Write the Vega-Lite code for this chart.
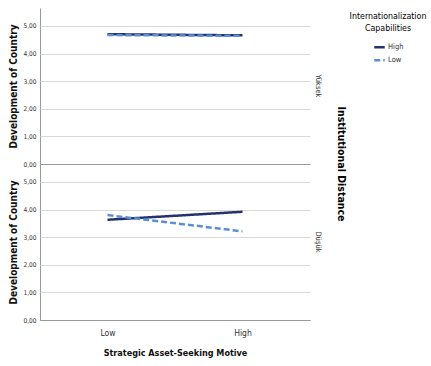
{
  "$schema": "https://vega.github.io/schema/vega-lite/v6.json",
  "padding": {"top": 8, "left": 8, "right": 2, "bottom": 5},
  "background": "white",
  "config": {
    "font": "DejaVu Sans Condensed, Liberation Sans, Arial, sans-serif",
    "view": {"stroke": null},
    "axis": {"labelColor": "#333", "titleColor": "#111"}
  },
  "data": {"values": [
    {"dist": "Yüksek", "motive": "Low", "cap": "High", "dev": 4.70},
    {"dist": "Yüksek", "motive": "High", "cap": "High", "dev": 4.66},
    {"dist": "Yüksek", "motive": "Low", "cap": "Low", "dev": 4.67},
    {"dist": "Yüksek", "motive": "High", "cap": "Low", "dev": 4.64},
    {"dist": "Düşük", "motive": "Low", "cap": "High", "dev": 3.63},
    {"dist": "Düşük", "motive": "High", "cap": "High", "dev": 3.92},
    {"dist": "Düşük", "motive": "Low", "cap": "Low", "dev": 3.80},
    {"dist": "Düşük", "motive": "High", "cap": "Low", "dev": 3.21}
  ]},
  "facet": {
    "row": {
      "field": "dist",
      "type": "nominal",
      "sort": ["Yüksek", "Düşük"],
      "title": "Institutional Distance",
      "header": {
        "labelOrient": "right",
        "labelAngle": 90,
        "labelFontSize": 7.5,
        "labelColor": "#333",
        "labelPadding": 4,
        "titleOrient": "right",
        "titleAngle": 90,
        "titleFontSize": 10.5,
        "titleFontWeight": "bold",
        "titlePadding": 3
      }
    }
  },
  "spacing": {"row": 0},
  "spec": {
    "width": 270,
    "height": 156,
    "mark": {"type": "line", "strokeWidth": 2.5},
    "encoding": {
      "x": {
        "field": "motive",
        "type": "nominal",
        "sort": ["Low", "High"],
        "scale": {"type": "point", "padding": 0.5},
        "axis": {
          "title": "Strategic Asset-Seeking Motive",
          "titleFontSize": 9,
          "titleFontWeight": "bold",
          "titlePadding": 12,
          "labelFontSize": 8.5,
          "labelAngle": 0,
          "labelPadding": 8,
          "ticks": false,
          "domainColor": "#999"
        }
      },
      "y": {
        "field": "dev",
        "type": "quantitative",
        "scale": {"domain": [0, 5.65], "nice": false, "zero": true},
        "axis": {
          "title": "Development of Country",
          "titleFontSize": 10,
          "titleFontWeight": "bold",
          "titlePadding": 4,
          "values": [0, 1, 2, 3, 4, 5],
          "labelExpr": "replace(format(datum.value, '.2f'), '.', ',')",
          "labelFontSize": 6.5,
          "ticks": false,
          "labelPadding": 4,
          "domainColor": "#999",
          "gridColor": {"condition": {"test": "datum.value === 0", "value": "#999"}, "value": "#d9d9d9"}
        }
      },
      "color": {
        "field": "cap",
        "type": "nominal",
        "scale": {"domain": ["High", "Low"], "range": ["#26316e", "#5b8fd5"]},
        "title": ["Internationalization", "Capabilities"],
        "legend": {
          "orient": "right",
          "symbolType": "stroke",
          "symbolStrokeWidth": 2.5,
          "symbolSize": 110,
          "labelFontSize": 7.5,
          "labelColor": "#333",
          "titleFontSize": 8.8,
          "titleFontWeight": "normal",
          "titleColor": "#000",
          "titleAlign": "center",
          "titleAnchor": "middle",
          "titleLineHeight": 12,
          "titlePadding": 8,
          "rowPadding": 1,
          "labelOffset": 2,
          "padding": 4,
          "offset": 0
        }
      },
      "strokeDash": {
        "field": "cap",
        "type": "nominal",
        "scale": {"domain": ["High", "Low"], "range": [[1, 0], [6, 3]]},
        "title": ["Internationalization", "Capabilities"]
      }
    }
  }
}
